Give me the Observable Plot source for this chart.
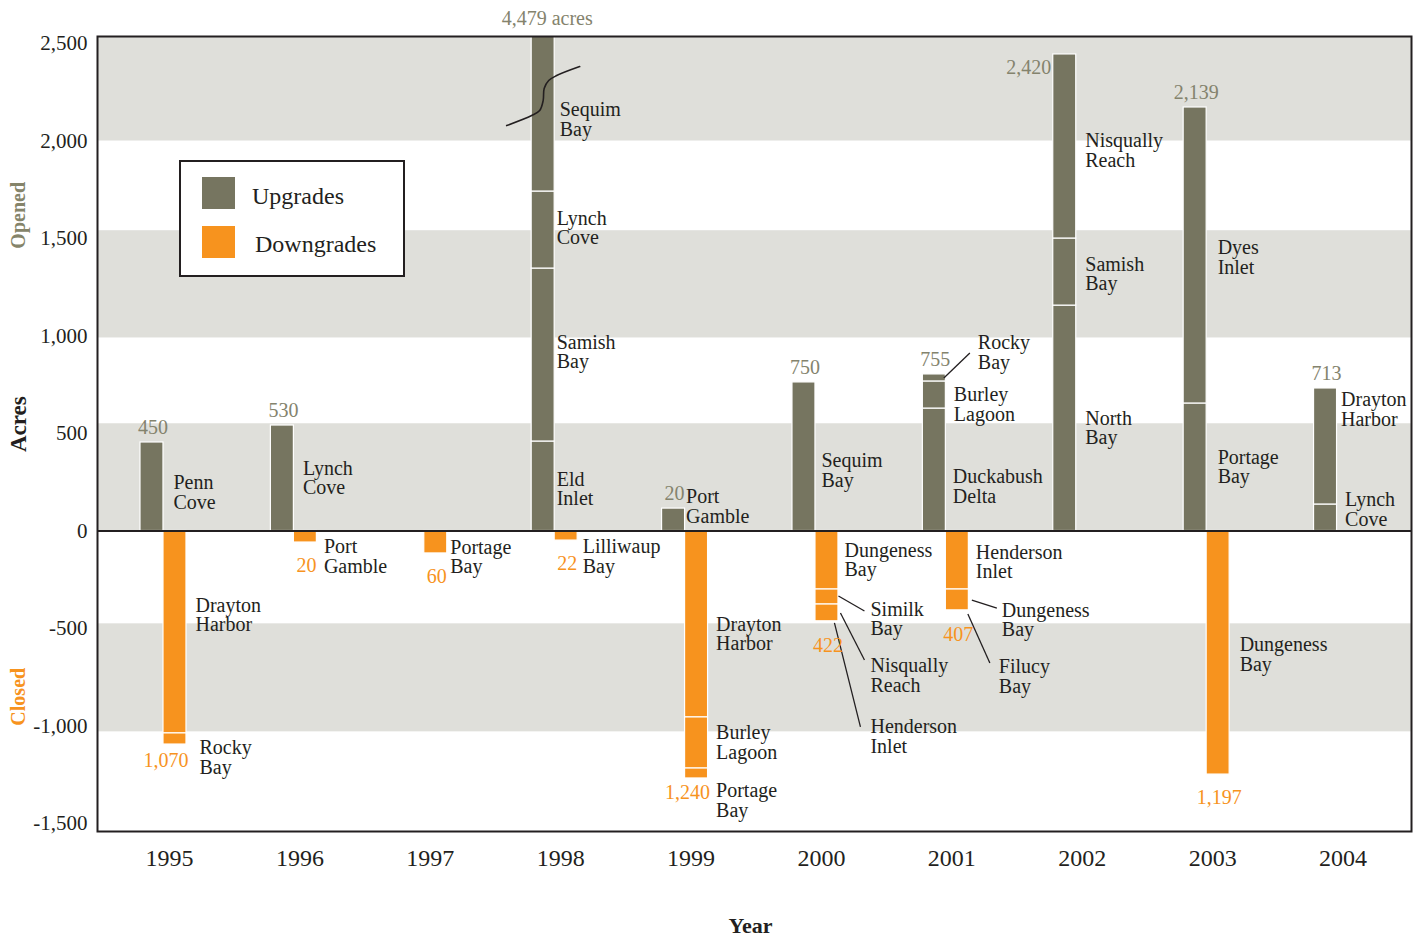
<!DOCTYPE html>
<html><head><meta charset="utf-8">
<script src="https://cdn.jsdelivr.net/npm/d3@7"></script>
<script src="https://cdn.jsdelivr.net/npm/@observablehq/plot@0.6"></script>
<style>
body{margin:0;background:#fff;}
#wrap{position:relative;width:1421px;height:938px;font-family:"Liberation Serif",serif;color:#231f20;}
#legend{position:absolute;left:179px;top:160px;width:222px;height:113px;border:2px solid #231f20;background:#fff;}
#legend .sw{position:absolute;width:33px;height:32px;}
#legend .lt{position:absolute;font-size:24px;line-height:24px;white-space:nowrap;}
</style></head><body>
<div id="wrap"></div>
<script>
// ---------- data ----------
const years = [1995, 1996, 1997, 1998, 1999, 2000, 2001, 2002, 2003, 2004];

// upgrades (opened), stacked bottom-up per year
const upYear  = [1995, 1996, 1998, 1998, 1998, 1998, 1999, 2000, 2001, 2001, 2001, 2002, 2002, 2002, 2003, 2003, 2004, 2004];
const upSite  = ["Penn Cove", "Lynch Cove", "Eld Inlet", "Samish Bay", "Lynch Cove", "Sequim Bay", "Port Gamble", "Sequim Bay",
                 "Duckabush Delta", "Burley Lagoon", "Rocky Bay", "North Bay", "Samish Bay", "Nisqually Reach",
                 "Portage Bay", "Dyes Inlet", "Lynch Cove", "Drayton Harbor"];
const upAcres = [454, 541, 459, 887, 395, 2738, 115, 762, 628, 139, 36, 1156, 344, 944, 654, 1518, 136, 595];

// downgrades (closed), stacked top-down per year
const downYear  = [1995, 1995, 1996, 1997, 1998, 1999, 1999, 1999, 2000, 2000, 2000, 2000, 2001, 2001, 2001, 2003];
const downSite  = ["Drayton Harbor", "Rocky Bay", "Port Gamble", "Portage Bay", "Lilliwaup Bay", "Drayton Harbor", "Burley Lagoon",
                   "Portage Bay", "Dungeness Bay", "Similk Bay", "Nisqually Reach", "Henderson Inlet", "Henderson Inlet",
                   "Dungeness Bay", "Filucy Bay", "Dungeness Bay"];
const downAcres = [1038, 57, 59, 115, 49, 956, 262, 51, 300, 77, 87, 4, 300, 108, 4, 1249];

// totals printed on the chart
const upTotals   = [450, 530, null, 4479, 20, 750, 755, 2420, 2139, 713];
const downTotals = [1070, 20, 60, 22, 1240, 422, 407, null, 1197, null];

const yTicks = [-1500, -1000, -500, 0, 500, 1000, 1500, 2000, 2500];

// ---------- layout ----------
const W = 1421, H = 938, mL = 97, mR = 10, mT = 36, mB = 107;
const xDom = [1994.494, 2004.571], yDom = [-1541, 2536];
const kx = (W - mL - mR) / (xDom[1] - xDom[0]);
const ky = (H - mT - mB) / (yDom[1] - yDom[0]);
const barW = 23 / kx;
const UP = "#767560", DOWN = "#f7931e", BAND = "#dfdfda", INK = "#231f20", UPTXT = "#84836d";
const bands = [[2000, 2536], [990, 1540], [0, 550], [-1030, -476]];
const off = (x, y, d) => ({x: x + d[0] / kx, y: y - d[1] / ky});

function stack(yrs, sites, acres, sign, type) {
  const cum = new Map(), out = [];
  yrs.forEach((yr, i) => {
    const c = cum.get(yr) || 0, a = acres[i];
    out.push({type, year: yr, site: sites[i], y1: sign * c, y2: sign * (c + a),
      x1: type === "up" ? yr - barW : yr, x2: type === "up" ? yr : yr + barW});
    cum.set(yr, c + a);
  });
  return out;
}
const upSeg = stack(upYear, upSite, upAcres, 1, "up");
const downSeg = stack(downYear, downSite, downAcres, -1, "down");

// label nudges in px: [dx from bar edge, dy from segment middle]
const labelNudge = {
  "up 1995 Penn Cove": [10, 6], "up 1996 Lynch Cove": [9, 0], "up 1998 Eld Inlet": [2, 3],
  "up 1998 Samish Bay": [2, -3], "up 1998 Lynch Cove": [2, -2], "up 1998 Sequim Bay": [5, 6],
  "up 1999 Port Gamble": [1, -13], "up 2000 Sequim Bay": [6, 14], "up 2001 Duckabush Delta": [7, 17],
  "up 2001 Burley Lagoon": [8, 10], "up 2002 North Bay": [9, 10], "up 2002 Samish Bay": [9, 2],
  "up 2002 Nisqually Reach": [9, 4], "up 2003 Portage Bay": [11, 0], "up 2003 Dyes Inlet": [11, 2],
  "up 2004 Lynch Cove": [8, -8], "up 2004 Drayton Harbor": [4, -37],
  "down 1995 Drayton Harbor": [9, -17], "down 1995 Rocky Bay": [13, 19], "down 1996 Port Gamble": [7, 20],
  "down 1997 Portage Bay": [3, 15], "down 1998 Lilliwaup Bay": [5, 21], "down 1999 Drayton Harbor": [8, 10],
  "down 1999 Burley Lagoon": [8, 0], "down 1999 Portage Bay": [8, 27], "down 2000 Dungeness Bay": [6, 0],
  "down 2001 Henderson Inlet": [7, 2], "down 2003 Dungeness Bay": [10, 2]
};
const leaders = {
  "up 2001 Rocky Bay": {start: [-2, 0], end: [24, -25], label: [32, -25]},
  "down 2000 Similk Bay": {start: [0, -1], end: [26, 14], label: [32, 22]},
  "down 2000 Nisqually Reach": {start: [2, 0], end: [26, 47], label: [32, 63]},
  "down 2000 Henderson Inlet": {start: [-4, 1], end: [22, 105], label: [32, 115]},
  "down 2001 Dungeness Bay": {start: [3, 0], end: [28, 8], label: [33, 20]},
  "down 2001 Filucy Bay": {start: [-1, 3], end: [21, 52], label: [30, 66]}
};

const segLabels = [], leaderLines = [];
for (const s of [...upSeg, ...downSeg]) {
  const key = `${s.type} ${s.year} ${s.site}`;
  const ax = s.type === "up" ? s.year : s.year + barW;
  const lo = Math.max(Math.min(s.y1, s.y2), yDom[0]), hi = Math.min(Math.max(s.y1, s.y2), yDom[1]);
  const my = (lo + hi) / 2;
  const L = leaders[key];
  let p;
  if (L) {
    const a = off(ax, my, L.start), b = off(ax, my, L.end);
    leaderLines.push({x1: a.x, y1: a.y, x2: b.x, y2: b.y});
    p = off(ax, my, L.label);
  } else {
    p = off(ax, my, labelNudge[key] || [8, 0]);
  }
  segLabels.push({x: p.x, y: p.y, text: s.site.replace(" ", "\n")});
}

const fmt = d3.format(",");
const tickFmt = d => d < 0 ? "-" + fmt(-d) : fmt(d);

// totals labels
const totalLabels = [];
years.forEach((yr, i) => {
  const upTop = d3.sum(upSeg.filter(s => s.year === yr), s => s.y2 - s.y1);
  const downBot = d3.sum(downSeg.filter(s => s.year === yr), s => s.y1 - s.y2);
  if (upTotals[i] != null) {
    if (yr === 1998) {
      const p = off(yr - barW / 2, yDom[1], [4, -18]);
      totalLabels.push({...p, text: fmt(upTotals[i]) + " acres", anchor: "middle", fill: UPTXT});
    } else if (yr === 2002) {
      const p = off(yr - barW, upTop, [-2, 13]);
      totalLabels.push({...p, text: fmt(upTotals[i]), anchor: "end", fill: UPTXT});
    } else {
      const p = off(yr - barW / 2, upTop, [1, -15]);
      totalLabels.push({...p, text: fmt(upTotals[i]), anchor: "middle", fill: UPTXT});
    }
  }
  if (downTotals[i] != null) {
    if (yr === 1995 || yr === 1999) {
      const p = off(yr + barW, -downBot, [2, yr === 1995 ? 16 : 14]);
      totalLabels.push({...p, text: fmt(downTotals[i]), anchor: "end", fill: DOWN});
    } else {
      const p = off(yr + barW / 2, -downBot, [1, 23]);
      totalLabels.push({...p, text: fmt(downTotals[i]), anchor: "middle", fill: DOWN});
    }
  }
});

// break symbol on the 1998 bar (px offsets around the bar centre)
const breakAt = 2228;
const breakPx = [[-36.5, 29], [-11.5, 19], [-3.5, 14], [0, 4], [1, -8], [5.5, -16], [13.5, -21], [36.5, -30]];
const breakPts = breakPx.map(d => off(1998 - barW / 2, breakAt, d));

const chart = Plot.plot({
  width: W, height: H,
  marginLeft: mL, marginRight: mR, marginTop: mT, marginBottom: mB,
  x: {type: "linear", domain: xDom},
  y: {type: "linear", domain: yDom},
  style: {fontFamily: '"Liberation Serif", serif', color: INK, background: "white", overflow: "visible"},
  marks: [
    Plot.rect(bands, {x1: xDom[0], x2: xDom[1], y1: d => d[0], y2: d => d[1], fill: BAND}),
    Plot.rect(upSeg, {x1: "x1", x2: "x2", y1: "y1", y2: "y2", fill: UP, stroke: "white", strokeWidth: 1.2, clip: true}),
    Plot.rect(downSeg, {x1: "x1", x2: "x2", y1: "y1", y2: "y2", fill: DOWN, stroke: "white", strokeWidth: 1.2, clip: true}),
    Plot.ruleY([0], {stroke: INK, strokeWidth: 2}),
    Plot.frame({stroke: INK, strokeWidth: 2}),
    Plot.line(breakPts, {x: "x", y: "y", curve: "catmull-rom", stroke: INK, strokeWidth: 1.6}),
    Plot.link(leaderLines, {x1: "x1", y1: "y1", x2: "x2", y2: "y2", stroke: INK, strokeWidth: 1.3}),
    Plot.text(segLabels, {x: "x", y: "y", text: "text", textAnchor: "start", lineAnchor: "middle", lineHeight: 0.98, fontSize: 20, fill: INK}),
    Plot.text(totalLabels.filter(d => d.anchor === "middle"), {x: "x", y: "y", text: "text", fill: "fill", textAnchor: "middle", lineAnchor: "middle", fontSize: 20}),
    Plot.text(totalLabels.filter(d => d.anchor === "end"), {x: "x", y: "y", text: "text", fill: "fill", textAnchor: "end", lineAnchor: "middle", fontSize: 20}),
    Plot.axisY({ticks: yTicks, tickSize: 0, tickPadding: 10, tickFormat: tickFmt, fontSize: 21, label: null}),
    Plot.axisX({ticks: years, tickSize: 0, tickPadding: 17, tickFormat: d => String(d), fontSize: 24, label: null, dx: 6}),
    Plot.text(["Acres"], {y: d => 548, frameAnchor: "left", dx: -79, rotate: -90, text: d => d, fontSize: 23, fontWeight: "bold", fill: INK, textAnchor: "middle", lineAnchor: "middle"}),
    Plot.text(["Opened"], {y: d => 1619, frameAnchor: "left", dx: -79, rotate: -90, text: d => d, fontSize: 20, fontWeight: "bold", fill: "#85846a", textAnchor: "middle", lineAnchor: "middle"}),
    Plot.text(["Closed"], {y: d => -850, frameAnchor: "left", dx: -79, rotate: -90, text: d => d, fontSize: 20, fontWeight: "bold", fill: DOWN, textAnchor: "middle", lineAnchor: "middle"}),
    Plot.text(["Year"], {x: d => (xDom[0] + xDom[1]) / 2, frameAnchor: "bottom", dy: 94, text: d => d, fontSize: 22, fontWeight: "bold", fill: INK, lineAnchor: "middle", dx: -4})
  ]
});

const wrap = document.getElementById("wrap");
wrap.appendChild(chart);
const legend = document.createElement("div");
legend.id = "legend";
legend.innerHTML =
  `<div class="sw" style="left:21px;top:15px;background:${UP}"></div>` +
  `<div class="lt" style="left:71px;top:22px">Upgrades</div>` +
  `<div class="sw" style="left:21px;top:64px;background:${DOWN}"></div>` +
  `<div class="lt" style="left:74px;top:70px">Downgrades</div>`;
wrap.appendChild(legend);
</script>
</body></html>
